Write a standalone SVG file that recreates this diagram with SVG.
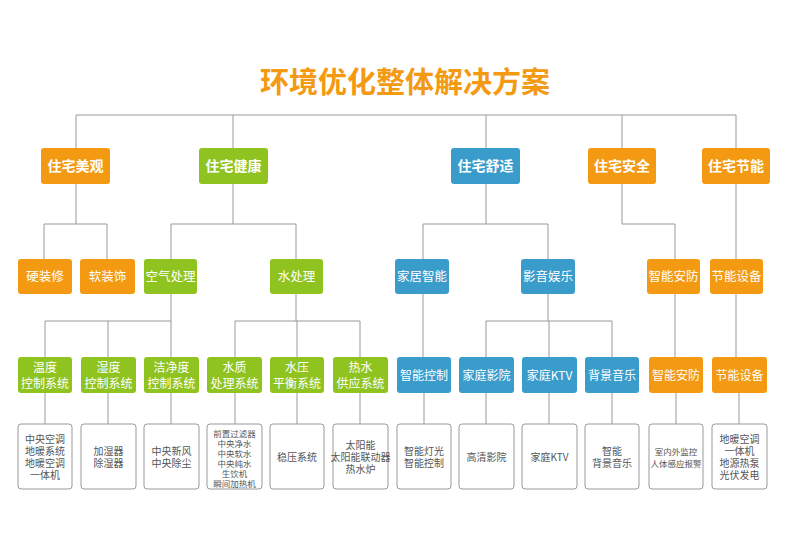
<svg xmlns="http://www.w3.org/2000/svg" width="787" height="557" viewBox="0 0 787 557">
<style>
.o{fill:#F39A12}.g{fill:#8FC31F}.b{fill:#3A9CCB}
.t{font-family:"Noto Sans CJK SC","Liberation Sans",sans-serif;fill:#fff;text-anchor:middle}
.l1{font-size:14px;font-weight:bold}.l2{font-size:12.5px}.l3{font-size:12px}
.leaf rect{fill:#fff;stroke:#999;stroke-width:1}
.leaf text{font-family:"Noto Sans CJK SC","Liberation Sans",sans-serif;fill:#555;font-size:10px;text-anchor:middle}
.leaf text.sm{font-size:8.5px}
#conn path{fill:none;stroke:#999;stroke-width:1}
</style>
<rect width="787" height="557" fill="#fff"/>
<text x="405" y="93" font-family="Noto Sans CJK SC,sans-serif" font-size="29" font-weight="bold" fill="#F39A12" text-anchor="middle">环境优化整体解决方案</text>
<g id="conn">
<path d="M76 148V115H736V148M233 115V148M486 115V148M622 115V148"/>
<path d="M76 184V224M44 259V224H107V259"/>
<path d="M233 184V224M171 259V224H296V259"/>
<path d="M486 184V224M423 259V224H548V259"/>
<path d="M622 184V224H675V259"/>
<path d="M736 184V259"/>
<path d="M171 294V321M45 357V321H171V357M108 321V357"/>
<path d="M296 294V321M235 357V321H360V357M297 321V357"/>
<path d="M423 294V357"/>
<path d="M548 294V321M486 357V321H612V357M549 321V357"/>
<path d="M675 294V357M736 294V357"/>
<path d="M45 393V424M108 393V424M171 393V424M235 393V424M297 393V424M360 393V424M424 393V424M486 393V424M549 393V424M612 393V424M676 393V424M739 393V424"/>
</g>
<g id="n1"><rect class="o" x="41" y="148" width="69" height="36" rx="3"/><text class="t l1" x="75.5" y="171">住宅美观</text></g>
<g id="n2"><rect class="g" x="199" y="148" width="69" height="36" rx="3"/><text class="t l1" x="233.5" y="171">住宅健康</text></g>
<g id="n3"><rect class="b" x="451" y="148" width="69" height="36" rx="3"/><text class="t l1" x="485.5" y="171">住宅舒适</text></g>
<g id="n4"><rect class="o" x="588" y="148" width="68" height="36" rx="3"/><text class="t l1" x="622" y="171">住宅安全</text></g>
<g id="n5"><rect class="o" x="702" y="148" width="68" height="36" rx="3"/><text class="t l1" x="736" y="171">住宅节能</text></g>
<g id="m1"><rect class="o" x="18" y="259" width="54" height="35" rx="3"/><text class="t l2" x="45" y="281">硬装修</text></g>
<g id="m2"><rect class="o" x="80" y="259" width="55" height="35" rx="3"/><text class="t l2" x="107.5" y="281">软装饰</text></g>
<g id="m3"><rect class="g" x="144" y="259" width="53" height="35" rx="3"/><text class="t l2" x="170.5" y="281">空气处理</text></g>
<g id="m4"><rect class="g" x="270" y="259" width="53" height="35" rx="3"/><text class="t l2" x="296.5" y="281">水处理</text></g>
<g id="m5"><rect class="b" x="395" y="259" width="54" height="35" rx="3"/><text class="t l2" x="422" y="281">家居智能</text></g>
<g id="m6"><rect class="b" x="521" y="259" width="54" height="35" rx="3"/><text class="t l2" x="548" y="281">影音娱乐</text></g>
<g id="m7"><rect class="o" x="647" y="259" width="53" height="35" rx="3"/><text class="t l2" x="673.5" y="281">智能安防</text></g>
<g id="m8"><rect class="o" x="710" y="259" width="53" height="35" rx="3"/><text class="t l2" x="736.5" y="281">节能设备</text></g>
<g id="s1"><rect class="g" x="18" y="357" width="54" height="36" rx="3"/><text class="t l3" x="45" y="372">温度</text><text class="t l3" x="45" y="388">控制系统</text></g>
<g id="s2"><rect class="g" x="81" y="357" width="55" height="36" rx="3"/><text class="t l3" x="108.5" y="372">湿度</text><text class="t l3" x="108.5" y="388">控制系统</text></g>
<g id="s3"><rect class="g" x="144" y="357" width="55" height="36" rx="3"/><text class="t l3" x="171.5" y="372">洁净度</text><text class="t l3" x="171.5" y="388">控制系统</text></g>
<g id="s4"><rect class="g" x="207" y="357" width="55" height="36" rx="3"/><text class="t l3" x="234.5" y="372">水质</text><text class="t l3" x="234.5" y="388">处理系统</text></g>
<g id="s5"><rect class="g" x="270" y="357" width="54" height="36" rx="3"/><text class="t l3" x="297" y="372">水压</text><text class="t l3" x="297" y="388">平衡系统</text></g>
<g id="s6"><rect class="g" x="333" y="357" width="55" height="36" rx="3"/><text class="t l3" x="360.5" y="372">热水</text><text class="t l3" x="360.5" y="388">供应系统</text></g>
<g id="s7"><rect class="b" x="397" y="357" width="54" height="36" rx="3"/><text class="t l3" x="424" y="380">智能控制</text></g>
<g id="s8"><rect class="b" x="459" y="357" width="55" height="36" rx="3"/><text class="t l3" x="486.5" y="380">家庭影院</text></g>
<g id="s9"><rect class="b" x="522" y="357" width="55" height="36" rx="3"/><text class="t l3" x="549.5" y="380">家庭KTV</text></g>
<g id="s10"><rect class="b" x="585" y="357" width="54" height="36" rx="3"/><text class="t l3" x="612" y="380">背景音乐</text></g>
<g id="s11"><rect class="o" x="649" y="357" width="54" height="36" rx="3"/><text class="t l3" x="676" y="380">智能安防</text></g>
<g id="s12"><rect class="o" x="712" y="357" width="55" height="36" rx="3"/><text class="t l3" x="739.5" y="380">节能设备</text></g>
<g id="f1" class="leaf"><rect x="18" y="424" width="54" height="65" rx="3"/><text x="45" y="443">中央空调</text><text x="45" y="455">地暖系统</text><text x="45" y="467">地暖空调</text><text x="45" y="479">一体机</text></g>
<g id="f2" class="leaf"><rect x="81" y="424" width="55" height="65" rx="3"/><text x="108.5" y="455">加湿器</text><text x="108.5" y="467">除湿器</text></g>
<g id="f3" class="leaf"><rect x="144" y="424" width="55" height="65" rx="3"/><text x="171.5" y="455">中央新风</text><text x="171.5" y="467">中央除尘</text></g>
<g id="f4" class="leaf"><rect x="207" y="424" width="55" height="65" rx="3"/><text class="sm" x="234.5" y="437">前置过滤器</text><text class="sm" x="234.5" y="447">中央净水</text><text class="sm" x="234.5" y="457">中央软水</text><text class="sm" x="234.5" y="467">中央纯水</text><text class="sm" x="234.5" y="477">生饮机</text><text class="sm" x="234.5" y="487">瞬间加热机</text></g>
<g id="f5" class="leaf"><rect x="270" y="424" width="54" height="65" rx="3"/><text x="297" y="461">稳压系统</text></g>
<g id="f6" class="leaf"><rect x="333" y="424" width="55" height="65" rx="3"/><text x="360.5" y="449">太阳能</text><text x="360.5" y="461">太阳能联动器</text><text x="360.5" y="473">热水炉</text></g>
<g id="f7" class="leaf"><rect x="397" y="424" width="54" height="65" rx="3"/><text x="424" y="455">智能灯光</text><text x="424" y="467">智能控制</text></g>
<g id="f8" class="leaf"><rect x="459" y="424" width="55" height="65" rx="3"/><text x="486.5" y="461">高清影院</text></g>
<g id="f9" class="leaf"><rect x="522" y="424" width="55" height="65" rx="3"/><text x="549.5" y="461">家庭KTV</text></g>
<g id="f10" class="leaf"><rect x="585" y="424" width="54" height="65" rx="3"/><text x="612" y="455">智能</text><text x="612" y="467">背景音乐</text></g>
<g id="f11" class="leaf"><rect x="649" y="424" width="54" height="65" rx="3"/><text class="sm" x="676" y="455">室内外监控</text><text class="sm" x="676" y="467">人体感应报警</text></g>
<g id="f12" class="leaf"><rect x="712" y="424" width="55" height="65" rx="3"/><text x="739.5" y="443">地暖空调</text><text x="739.5" y="455">一体机</text><text x="739.5" y="467">地源热泵</text><text x="739.5" y="479">光伏发电</text></g>
</svg>
